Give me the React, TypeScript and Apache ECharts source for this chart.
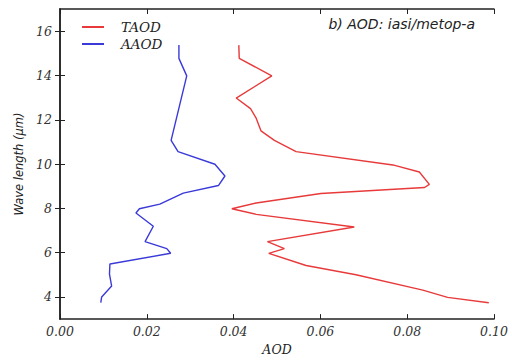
import React, { useEffect, useRef } from "react";
import * as echarts from "echarts";

const taodWave = [15.37, 14.77, 13.98, 12.98, 12.5, 12.07, 11.5, 11.07, 10.56, 9.96, 9.64, 9.08, 8.94, 8.67, 8.24, 7.98, 7.73, 7.16, 6.5, 6.18, 5.97, 5.42, 5.0, 4.31, 3.98, 3.74];
const taodValues = [0.0412, 0.0413, 0.0488, 0.0406, 0.0439, 0.0452, 0.0463, 0.0494, 0.0544, 0.0767, 0.0828, 0.0851, 0.084, 0.0601, 0.0452, 0.0396, 0.0452, 0.0678, 0.0478, 0.0517, 0.0481, 0.0567, 0.0682, 0.0836, 0.0893, 0.0988];

const aaodWave = [15.37, 14.77, 13.98, 11.07, 10.56, 9.99, 9.46, 9.03, 8.69, 8.19, 7.98, 7.79, 7.19, 6.5, 6.18, 5.97, 5.49, 5.03, 4.49, 4.0, 3.74];
const aaodValues = [0.0274, 0.0274, 0.0292, 0.0256, 0.0272, 0.0357, 0.038, 0.0365, 0.0284, 0.023, 0.0183, 0.0175, 0.0215, 0.0196, 0.0246, 0.0255, 0.0115, 0.0114, 0.0119, 0.0096, 0.0094];

const xTicks = ["0.00", "0.02", "0.04", "0.06", "0.08", "0.10"];
const yTicks = [4, 6, 8, 10, 12, 14, 16];
const seriesNames = ["TAOD", "AAOD"];
const title = "b) AOD: iasi/metop-a";

export default function App() {
  const ref = useRef<HTMLDivElement>(null);
  useEffect(() => {
    const chart = echarts.init(ref.current!, null, { renderer: "svg" });
    const serif = "'DejaVu Serif', 'Liberation Serif', serif";
    const axisLine = { show: true, lineStyle: { color: "#222", width: 1.5 } };
    const axisTick = { show: true, inside: true, length: 5, lineStyle: { color: "#222" } };
    chart.setOption({
      animation: false,
      backgroundColor: "#fff",
      grid: { left: 60, right: 18, top: 9, bottom: 27 },
      legend: {
        left: 77,
        top: 15,
        orient: "vertical",
        itemWidth: 22,
        itemHeight: 2,
        itemGap: 3,
        icon: "rect",
        textStyle: { fontFamily: serif, fontStyle: "italic", fontSize: 13.5, color: "#222", padding: [0, 0, 0, 12] },
        data: seriesNames,
      },
      graphic: [
        {
          type: "text",
          right: 37,
          top: 17,
          style: { text: title, fontFamily: "'DejaVu Sans'", fontStyle: "italic", fontSize: 14, fill: "#222" },
        },
      ],
      xAxis: [
        {
          type: "value",
          min: 0,
          max: 0.1,
          interval: 0.02,
          position: "bottom",
          name: "AOD",
          nameLocation: "middle",
          nameGap: 21,
          nameTextStyle: { fontFamily: serif, fontStyle: "italic", fontSize: 12.5, color: "#222" },
          axisLabel: {
            fontFamily: serif,
            fontStyle: "italic",
            fontSize: 12.5,
            color: "#333",
            margin: 6,
            formatter: (v: number) => xTicks[Math.round(v / 0.02)] ?? "",
          },
          axisLine,
          axisTick,
          splitLine: { show: false },
        },
        {
          type: "value",
          min: 0,
          max: 0.1,
          interval: 0.02,
          position: "top",
          axisLabel: { show: false },
          axisLine,
          axisTick,
          splitLine: { show: false },
        },
      ],
      yAxis: [
        {
          type: "value",
          min: 3,
          max: 17,
          position: "left",
          name: "Wave length (μm)",
          nameLocation: "middle",
          nameGap: 25,
          nameTextStyle: { fontFamily: "'DejaVu Sans'", fontStyle: "italic", fontSize: 11.5, color: "#222" },
          axisLabel: {
            fontFamily: serif,
            fontStyle: "italic",
            fontSize: 12.5,
            color: "#333",
            margin: 8,
            customValues: yTicks,
          },
          axisTick: { ...axisTick, customValues: yTicks },
          axisLine,
          splitLine: { show: false },
        },
        {
          type: "value",
          min: 3,
          max: 17,
          position: "right",
          axisLabel: { show: false, customValues: yTicks },
          axisTick: { ...axisTick, customValues: yTicks },
          axisLine,
          splitLine: { show: false },
        },
      ],
      series: [
        {
          name: seriesNames[0],
          type: "line",
          showSymbol: false,
          symbol: "none",
          color: "#e83a3a",
          lineStyle: { width: 1.4, color: "#e83a3a" },
          data: taodValues.map((v, i) => [v, taodWave[i]]),
        },
        {
          name: seriesNames[1],
          type: "line",
          showSymbol: false,
          symbol: "none",
          color: "#3a3ad8",
          lineStyle: { width: 1.4, color: "#3a3ad8" },
          data: aaodValues.map((v, i) => [v, aaodWave[i]]),
        },
      ],
    });
    return () => chart.dispose();
  }, []);
  return <div ref={ref} style={{ position: "absolute", left: 0, top: 0, width: 512, height: 361 }} />;
}
